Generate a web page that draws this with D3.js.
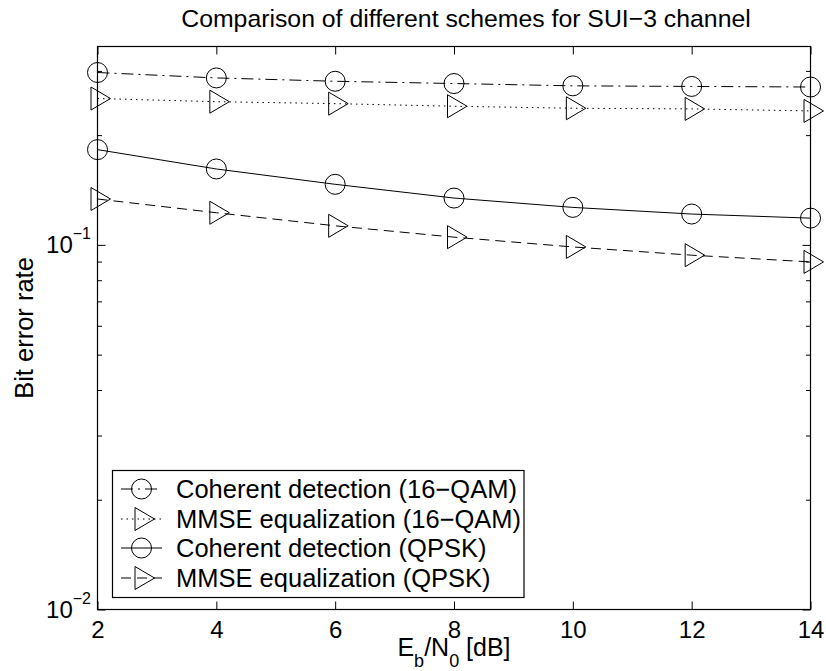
<!DOCTYPE html>
<html>
<head>
<meta charset="utf-8">
<script src="https://cdn.jsdelivr.net/npm/d3@7"></script>
<style>
  body { margin: 0; background: #fff; }
  svg { display: block; font-family: "Liberation Sans", Arial, Helvetica, sans-serif; }
</style>
</head>
<body>
<script>
// E_b/N_0 values (dB)
var ebn0 = [2, 4, 6, 8, 10, 12, 14];

// bit error rates
var cohQam16 = [0.297, 0.287, 0.281, 0.277, 0.273, 0.272, 0.271];
var mmseQam16 = [0.252, 0.247, 0.244, 0.240, 0.237, 0.236, 0.233];
var cohQpsk = [0.1825, 0.1615, 0.1466, 0.1344, 0.1267, 0.1215, 0.1184];
var mmseQpsk = [0.1336, 0.1225, 0.1128, 0.1050, 0.0987, 0.0937, 0.0898];

var legendLabels = [
  'Coherent detection (16\u2212QAM)',
  'MMSE equalization (16\u2212QAM)',
  'Coherent detection (QPSK)',
  'MMSE equalization (QPSK)'
];

var xTicks = [2, 4, 6, 8, 10, 12, 14];
var yMajor = [0.01, 0.1];
var yMajorExp = ['\u22122', '\u22121'];
var yMinor = [0.02, 0.03, 0.04, 0.05, 0.06, 0.07, 0.08, 0.09, 0.2, 0.3];

var settings = {
  w: 826, h: 671,
  left: 97.5, right: 810.5, top: 46.5, bottom: 609.5,
  font: 'Liberation Sans, Arial, Helvetica, sans-serif'
};

var series = [
  { y: cohQam16, marker: 'circle', dash: '12,5,2,5' },
  { y: mmseQam16, marker: 'tri', dash: '1.5,4' },
  { y: cohQpsk, marker: 'circle', dash: null },
  { y: mmseQpsk, marker: 'tri', dash: '10,6' }
];

var svg = d3.select('body').append('svg')
  .attr('width', settings.w)
  .attr('height', settings.h);

var x = d3.scaleLinear().domain([2, 14]).range([settings.left, settings.right]);
var y = d3.scaleLog().domain([0.01, 0.35]).range([settings.bottom, settings.top]);

// triangle pointing right, centred on its centroid
var triPath = 'M-6.5,-11.5L-6.5,11.5L13,0Z';

var drawMarker = function(g, kind, cx, cy) {
  if (kind === 'circle') {
    g.append('circle')
      .attr('cx', cx).attr('cy', cy).attr('r', 10)
      .attr('fill', 'none').attr('stroke', '#000').attr('stroke-width', 1);
  } else {
    g.append('path')
      .attr('d', triPath)
      .attr('transform', 'translate(' + cx + ',' + cy + ')')
      .attr('fill', 'none').attr('stroke', '#000').attr('stroke-width', 1);
  }
};

// data lines and markers
var line = d3.line()
  .x(function(d, i) { return x(ebn0[i]); })
  .y(function(d) { return y(d); });

series.forEach(function(s) {
  var g = svg.append('g');
  g.append('path')
    .attr('d', line(s.y))
    .attr('fill', 'none')
    .attr('stroke', '#000')
    .attr('stroke-width', 1)
    .attr('stroke-dasharray', s.dash);
  s.y.forEach(function(v, i) {
    drawMarker(g, s.marker, x(ebn0[i]), y(v));
  });
});

// axes box
svg.append('rect')
  .attr('x', settings.left).attr('y', settings.top)
  .attr('width', settings.right - settings.left)
  .attr('height', settings.bottom - settings.top)
  .attr('fill', 'none').attr('stroke', '#000').attr('stroke-width', 1.2);

// x ticks (inward, bottom and top)
var bottomAxis = d3.axisBottom(x).tickValues(xTicks).tickSize(-8).tickPadding(11)
  .tickFormat(d3.format('d'));
var topAxis = d3.axisTop(x).tickValues(xTicks).tickSize(-8).tickFormat('');

var gx = svg.append('g').attr('transform', 'translate(0,' + settings.bottom + ')').call(bottomAxis);
svg.append('g').attr('transform', 'translate(0,' + settings.top + ')').call(topAxis);

// y ticks (inward, left and right)
var leftMajor = d3.axisLeft(y).tickValues(yMajor).tickSize(-8).tickFormat('');
var rightMajor = d3.axisRight(y).tickValues(yMajor).tickSize(-8).tickFormat('');
var leftMinor = d3.axisLeft(y).tickValues(yMinor).tickSize(-4.5).tickFormat('');
var rightMinor = d3.axisRight(y).tickValues(yMinor).tickSize(-4.5).tickFormat('');

svg.append('g').attr('transform', 'translate(' + settings.left + ',0)').call(leftMajor);
svg.append('g').attr('transform', 'translate(' + settings.left + ',0)').call(leftMinor);
svg.append('g').attr('transform', 'translate(' + settings.right + ',0)').call(rightMajor);
svg.append('g').attr('transform', 'translate(' + settings.right + ',0)').call(rightMinor);

svg.selectAll('.domain').remove();
svg.selectAll('.tick line').attr('stroke', '#000').attr('stroke-width', 1);

gx.selectAll('.tick text')
  .attr('font-size', 24)
  .attr('font-family', settings.font)
  .attr('fill', '#000');

// y tick labels: 10 with superscript exponent
yMajor.forEach(function(v, i) {
  var t = svg.append('text')
    .attr('x', 91)
    .attr('y', y(v) + 8.5)
    .attr('text-anchor', 'end')
    .attr('font-size', 24)
    .attr('fill', '#000');
  t.append('tspan').text('10');
  t.append('tspan').attr('font-size', 16).attr('dy', -14).text(yMajorExp[i]);
});

// title
svg.append('text')
  .attr('x', (settings.left + settings.right) / 2 + 12)
  .attr('y', 27)
  .attr('text-anchor', 'middle')
  .attr('font-size', 24.8)
  .attr('fill', '#000')
  .text('Comparison of different schemes for SUI\u22123 channel');

// y label
svg.append('text')
  .attr('transform', 'translate(33,' + (settings.top + settings.bottom) / 2 + ') rotate(-90)')
  .attr('text-anchor', 'middle')
  .attr('font-size', 25.5)
  .attr('fill', '#000')
  .text('Bit error rate');

// x label: E_b/N_0 [dB]
var xl = svg.append('text')
  .attr('x', (settings.left + settings.right) / 2)
  .attr('y', 656)
  .attr('text-anchor', 'middle')
  .attr('font-size', 25)
  .attr('fill', '#000');
xl.append('tspan').text('E');
xl.append('tspan').attr('font-size', 18).attr('dy', 11).text('b');
xl.append('tspan').attr('dy', -11).text('/N');
xl.append('tspan').attr('font-size', 18).attr('dy', 11).text('0');
xl.append('tspan').attr('dy', -11).text(' [dB]');

// legend
var leg = svg.append('g');
leg.append('rect')
  .attr('x', 112.5).attr('y', 470.5)
  .attr('width', 411.5).attr('height', 127)
  .attr('fill', '#fff').attr('stroke', '#000').attr('stroke-width', 1.2);

var legRows = [489, 519, 548, 578];
series.forEach(function(s, i) {
  var ly = legRows[i];
  leg.append('line')
    .attr('x1', 121).attr('x2', 162)
    .attr('y1', ly).attr('y2', ly)
    .attr('stroke', '#000').attr('stroke-width', 1)
    .attr('stroke-dasharray', s.dash);
  drawMarker(leg, s.marker, 141.5, ly);
  leg.append('text')
    .attr('x', 176).attr('y', ly + 9)
    .attr('font-size', 25.5)
    .attr('fill', '#000')
    .text(legendLabels[i]);
});
</script>
</body>
</html>
